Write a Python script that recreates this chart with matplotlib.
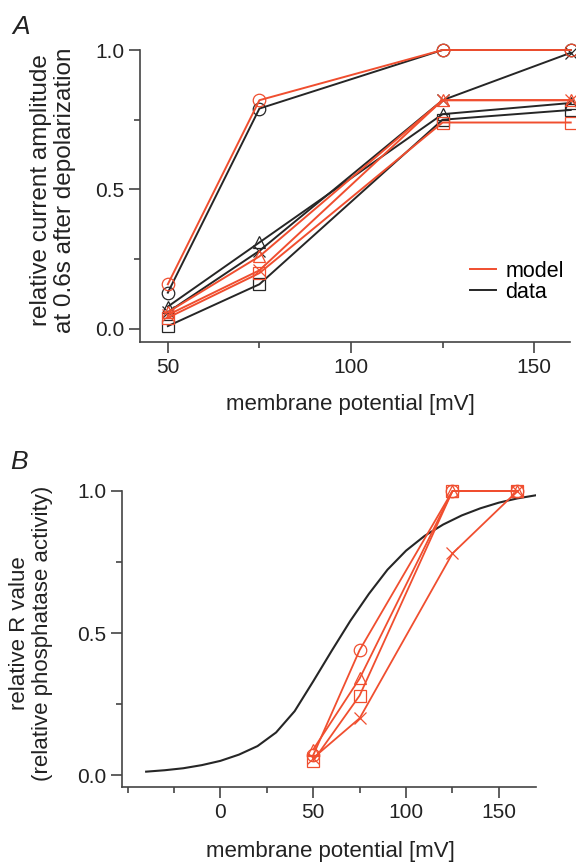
import matplotlib
matplotlib.use("Agg")
import matplotlib.pyplot as plt
from matplotlib.ticker import MultipleLocator

plt.rcParams['font.family'] = ['Liberation Sans', 'DejaVu Sans']

RED = '#f04e2f'
BLACK = '#262626'
SPINE = '#444444'
TXT = '#222222'

# ---- Panel A data ----
voltA = [50, 75, 125, 160]
model_circle = [0.16, 0.82, 1.0, 1.0]
model_triangle = [0.06, 0.26, 0.82, 0.82]
model_square = [0.04, 0.20, 0.74, 0.74]
model_x = [0.05, 0.21, 0.82, 0.82]
data_circle = [0.13, 0.79, 1.0, 1.0]
data_triangle = [0.08, 0.31, 0.77, 0.81]
data_square = [0.01, 0.16, 0.75, 0.785]
data_x = [0.06, 0.28, 0.82, 0.99]

# ---- Panel B data ----
voltB = [50, 75, 125, 160]
r_circle = [0.07, 0.44, 1.0, 1.0]
r_triangle = [0.09, 0.34, 1.0, 1.0]
r_square = [0.05, 0.28, 1.0, 1.0]
r_x = [0.06, 0.20, 0.78, 1.0]

curve_v = [-40, -30, -20, -10, 0, 10, 20, 30, 40, 50, 60, 70, 80, 90,
           100, 110, 120, 130, 140, 150, 160, 170]
curve_r = [0.012, 0.017, 0.024, 0.035, 0.05, 0.072, 0.102, 0.15, 0.225,
           0.33, 0.438, 0.543, 0.638, 0.723, 0.79, 0.842, 0.882, 0.914,
           0.939, 0.959, 0.974, 0.985]

W, H = 576, 863
fig = plt.figure(figsize=(W / 100, H / 100), dpi=100)


def style_axes(ax):
    for s in ['top', 'right']:
        ax.spines[s].set_visible(False)
    for s in ['left', 'bottom']:
        ax.spines[s].set_color(SPINE)
        ax.spines[s].set_linewidth(1.2)
    ax.tick_params(which='major', direction='out', length=8, width=1.2,
                   color=SPINE, labelsize=15, labelcolor=TXT, pad=3.5)
    ax.tick_params(which='minor', direction='out', length=4.5, width=1.2,
                   color=SPINE)


mk = dict(fillstyle='none', markersize=9, markeredgewidth=0.9, clip_on=False)

# Panel A
axA = fig.add_axes([140 / W, 1 - 342 / H, 430 / W, 292 / H])
style_axes(axA)
for vals, m, c in [(data_circle, 'o', BLACK), (data_triangle, '^', BLACK),
                   (data_square, 's', BLACK), (data_x, 'x', BLACK),
                   (model_circle, 'o', RED), (model_triangle, '^', RED),
                   (model_square, 's', RED), (model_x, 'x', RED)]:
    axA.plot(voltA, vals, color=c, lw=1.4, marker=m,
             markeredgecolor=c, **mk)
axA.set_xlim(42.4, 159.8)
axA.set_ylim(-0.047, 1.0)
axA.set_xticks([50, 100, 150])
axA.set_xticklabels(['50', '100', '150'])
axA.xaxis.set_minor_locator(MultipleLocator(25))
axA.set_yticks([0.0, 0.5, 1.0])
axA.set_yticklabels(['0.0', '0.5', '1.0'])
axA.yaxis.set_minor_locator(MultipleLocator(0.25))
fig.text(350 / W, 1 - 394 / H, 'membrane potential [mV]', fontsize=16,
         ha='center', va='top', color=TXT)
fig.text(53 / W, 1 - 190 / H,
         'relative current amplitude\nat 0.6s after depolarization',
         fontsize=17.5, rotation=90, ha='center', va='center',
         multialignment='center', color=TXT, linespacing=1.15)
hm, = axA.plot([], [], color=RED, lw=1.4)
hd, = axA.plot([], [], color=BLACK, lw=1.4)
axA.legend([hm, hd], ['model', 'data'], loc='upper left',
           bbox_to_anchor=(470 / W, 1 - 261 / H),
           bbox_transform=fig.transFigure, frameon=False, fontsize=15.5,
           handlelength=1.2, handletextpad=0.45, labelspacing=0.0,
           borderpad=0, borderaxespad=0)
fig.text(12 / W, 1 - 27 / H, 'A', fontsize=19, style='italic',
         va='center', ha='left', color=TXT)

# Panel B
axB = fig.add_axes([122 / W, 1 - 787 / H, 414 / W, 296 / H])
style_axes(axB)
axB.plot(curve_v, curve_r, color=BLACK, lw=1.5)
for vals, m in [(r_circle, 'o'), (r_triangle, '^'), (r_square, 's'),
                (r_x, 'x')]:
    axB.plot(voltB, vals, color=RED, lw=1.3, marker=m,
             markeredgecolor=RED, **mk)
axB.set_xlim(-53, 170)
axB.set_ylim(-0.042, 1.0)
axB.set_xticks([0, 50, 100, 150])
axB.set_xticklabels(['0', '50', '100', '150'])
axB.xaxis.set_minor_locator(MultipleLocator(25))
axB.set_yticks([0.0, 0.5, 1.0])
axB.set_yticklabels(['0.0', '0.5', '1.0'])
axB.yaxis.set_minor_locator(MultipleLocator(0.25))
fig.text(330 / W, 1 - 841 / H, 'membrane potential [mV]', fontsize=16,
         ha='center', va='top', color=TXT)
fig.text(31 / W, 1 - 633 / H,
         'relative R value\n(relative phosphatase activity)',
         fontsize=16, rotation=90, ha='center', va='center',
         multialignment='center', color=TXT, linespacing=1.15)
fig.text(10 / W, 1 - 462 / H, 'B', fontsize=19, style='italic',
         va='center', ha='left', color=TXT)

fig.savefig('out.png', dpi=100)
